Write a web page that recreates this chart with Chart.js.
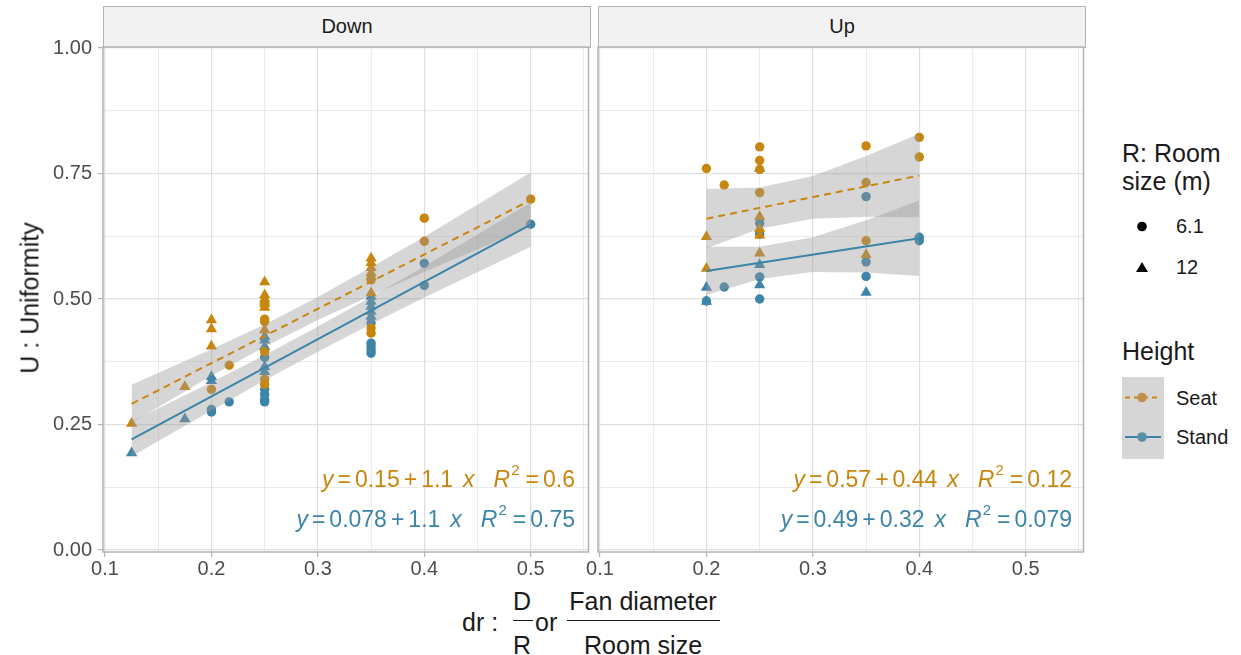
<!DOCTYPE html>
<html>
<head>
<meta charset="utf-8">
<script src="https://cdn.jsdelivr.net/npm/chart.js@4"></script>
<style>
  body { margin: 0; background: #fff; font-family: "Liberation Sans", Arial, sans-serif; }
  #wrap { position: relative; width: 1241px; height: 655px; overflow: hidden; color: #1a1a1a; }
  .box { position: absolute; }
  .strip { position: absolute; background: #f2f2f2; border: 1.5px solid #b3b3b3; box-sizing: border-box;
           font-size: 20px; text-align: center; line-height: 38px; }
  .eq { position: absolute; font-size: 23px; line-height: 1; white-space: nowrap; }
  .eq .op { margin: 0 4px; }
  .eq .sx { margin-left: 10px; }
  .eq .gap { margin-left: 19px; }
  .eq sup { font-size: 15px; position: relative; top: -3px; margin-left: 1px; margin-right: 2px; }
  .t25 { position: absolute; font-size: 25px; line-height: 1; white-space: nowrap; }
  .t20 { position: absolute; font-size: 20px; line-height: 1; white-space: nowrap; }
  .bar { position: absolute; height: 0; border-top: 1.6px solid #1a1a1a; }
</style>
</head>
<body>
<div id="wrap">
  <div class="strip" style="left:103px;top:6px;width:488px;height:42px;">Down</div>
  <div class="strip" style="left:598px;top:6px;width:488px;height:42px;">Up</div>

  <div class="box" style="left:0;top:21px;width:595px;height:561px;"><canvas id="chartDown"></canvas></div>
  <div class="box" style="left:580px;top:37px;width:510px;height:545px;"><canvas id="chartUp"></canvas></div>

  <!-- equações -->
  <div class="eq" style="right:666px;top:465px;color:#c8860f;"><i>y</i><span class="op">=</span>0.15<span class="op">+</span>1.1<span class="sx"><i>x</i></span><span class="gap"><i>R</i></span><sup>2</sup><span class="op">=</span>0.6</div>
  <div class="eq" style="right:666px;top:505px;color:#3c84a8;"><i>y</i><span class="op">=</span>0.078<span class="op">+</span>1.1<span class="sx"><i>x</i></span><span class="gap"><i>R</i></span><sup>2</sup><span class="op">=</span>0.75</div>
  <div class="eq" style="right:169px;top:465px;color:#c8860f;"><i>y</i><span class="op">=</span>0.57<span class="op">+</span>0.44<span class="sx"><i>x</i></span><span class="gap"><i>R</i></span><sup>2</sup><span class="op">=</span>0.12</div>
  <div class="eq" style="right:169px;top:505px;color:#3c84a8;"><i>y</i><span class="op">=</span>0.49<span class="op">+</span>0.32<span class="sx"><i>x</i></span><span class="gap"><i>R</i></span><sup>2</sup><span class="op">=</span>0.079</div>

  <!-- título eixo y -->
  <div style="position:absolute;left:30px;top:298px;transform:translate(-50%,-50%) rotate(-90deg);font-size:25px;white-space:nowrap;">U&nbsp;:&nbsp;Uniformity</div>

  <!-- título eixo x -->
  <div class="t25" style="left:462px;top:610px;">dr :</div>
  <div class="t25" style="left:522px;top:589px;transform:translateX(-50%);">D</div>
  <div class="bar" style="left:513px;top:620px;width:20px;"></div>
  <div class="t25" style="left:522px;top:633px;transform:translateX(-50%);">R</div>
  <div class="t25" style="left:535px;top:610px;">or</div>
  <div class="t25" style="left:643px;top:589px;transform:translateX(-50%);">Fan diameter</div>
  <div class="bar" style="left:567px;top:620px;width:153px;"></div>
  <div class="t25" style="left:643px;top:633px;transform:translateX(-50%);">Room size</div>

  <!-- legenda -->
  <div class="t25" style="left:1122px;top:141px;">R: Room</div>
  <div class="t25" style="left:1122px;top:169px;">size (m)</div>
  <svg style="position:absolute;left:1127px;top:212px;" width="30" height="70">
    <circle cx="15" cy="14.5" r="4.8" fill="#000"/>
    <polygon points="15,50 21,60 9,60" fill="#000"/>
  </svg>
  <div class="t20" style="left:1176px;top:216px;">6.1</div>
  <div class="t20" style="left:1176px;top:257px;">12</div>

  <div class="t25" style="left:1122px;top:339px;">Height</div>
  <svg style="position:absolute;left:1122px;top:377px;" width="42" height="82">
    <rect x="0" y="0" width="42" height="82" fill="#d6d6d6"/>
    <line x1="3" y1="20.5" x2="39" y2="20.5" stroke="#c8860f" stroke-width="2" stroke-dasharray="5 4"/>
    <circle cx="20" cy="20.5" r="4.8" fill="#c08f4e"/>
    <line x1="3" y1="60" x2="39" y2="60" stroke="#3c84a8" stroke-width="2"/>
    <circle cx="20" cy="60" r="4.8" fill="#5b8fa9"/>
  </svg>
  <div class="t20" style="left:1176px;top:388px;">Seat</div>
  <div class="t20" style="left:1176px;top:427px;">Stand</div>
</div>

<script>
/* =======================
   DADOS
======================= */
// Painel "Down": [dr, U]
const downSeatCircle = [[0.2,0.32],[0.2167,0.368],[0.25,0.46],[0.25,0.455],[0.25,0.395],[0.25,0.34],[0.25,0.33],
                        [0.35,0.538],[0.35,0.442],[0.35,0.432],[0.4,0.661],[0.4,0.615],[0.5,0.699]];
const downSeatTriangle = [[0.125,0.252],[0.175,0.325],[0.2,0.458],[0.2,0.44],[0.2,0.406],[0.25,0.534],[0.25,0.508],
                          [0.25,0.5],[0.25,0.495],[0.25,0.49],[0.25,0.483],[0.25,0.438],[0.35,0.581],[0.35,0.572],
                          [0.35,0.562],[0.35,0.552],[0.35,0.545],[0.35,0.512]];
const downStandCircle = [[0.2,0.28],[0.2,0.275],[0.2167,0.295],[0.25,0.384],[0.25,0.32],[0.25,0.31],[0.25,0.3],
                         [0.25,0.295],[0.35,0.452],[0.35,0.412],[0.35,0.405],[0.35,0.398],[0.35,0.392],
                         [0.4,0.571],[0.4,0.527],[0.5,0.649]];
const downStandTriangle = [[0.125,0.193],[0.175,0.261],[0.2,0.345],[0.2,0.337],[0.25,0.425],[0.25,0.418],[0.25,0.405],
                           [0.25,0.365],[0.25,0.355],[0.35,0.505],[0.35,0.495],[0.35,0.485],[0.35,0.475],[0.35,0.465]];

// Painel "Up"
const upSeatCircle = [[0.2,0.76],[0.2167,0.727],[0.25,0.803],[0.25,0.776],[0.25,0.758],[0.25,0.712],
                      [0.35,0.805],[0.35,0.732],[0.35,0.616],[0.4,0.822],[0.4,0.783]];
const upSeatTriangle = [[0.2,0.624],[0.2,0.561],[0.25,0.664],[0.25,0.64],[0.25,0.627],[0.25,0.591],[0.35,0.588]];
const upStandCircle = [[0.2,0.496],[0.2167,0.524],[0.25,0.651],[0.25,0.629],[0.25,0.544],[0.25,0.5],
                       [0.35,0.704],[0.35,0.574],[0.35,0.545],[0.4,0.623],[0.4,0.616]];
const upStandTriangle = [[0.2,0.523],[0.2,0.495],[0.25,0.76],[0.25,0.568],[0.25,0.528],[0.35,0.513]];

// Retas de regressão (extremos)
const downFitX = [0.125, 0.5];
const downSeatFitY = [0.291, 0.697];
const downStandFitY = [0.2205, 0.648];
const upFitX = [0.2, 0.4];
const upSeatFitY = [0.66, 0.746];
const upStandFitY = [0.556, 0.621];

// Faixas de confiança
const downBandX = [0.125, 0.2, 0.25, 0.3, 0.35, 0.4, 0.5];
const downSeatUpper = [0.329, 0.400, 0.449, 0.504, 0.563, 0.624, 0.752];
const downSeatLower = [0.253, 0.347, 0.405, 0.458, 0.507, 0.554, 0.644];
const downStandUpper = [0.256, 0.334, 0.388, 0.445, 0.504, 0.565, 0.692];
const downStandLower = [0.186, 0.278, 0.338, 0.395, 0.450, 0.503, 0.604];
const upBandX = [0.2, 0.25, 0.3, 0.35, 0.4];
const upSeatUpper = [0.719, 0.722, 0.745, 0.785, 0.829];
const upSeatLower = [0.601, 0.640, 0.660, 0.664, 0.663];
const upStandUpper = [0.604, 0.604, 0.623, 0.657, 0.696];
const upStandLower = [0.508, 0.540, 0.554, 0.553, 0.546];

// Eixos
const xTicks = [0.1, 0.15, 0.2, 0.25, 0.3, 0.35, 0.4, 0.45, 0.5, 0.55];
const xLabels = ['0.1', '', '0.2', '', '0.3', '', '0.4', '', '0.5', ''];
const yTicks = [0, 0.125, 0.25, 0.375, 0.5, 0.625, 0.75, 0.875, 1];
const yLabels = ['0.00', '', '0.25', '', '0.50', '', '0.75', '', '1.00'];

const SEAT = '#c8860f';
const STAND = '#3c84a8';
const BAND = 'rgba(153,153,153,0.4)';
const GRID = '#dedede';

Chart.defaults.font.family = '"Liberation Sans", Arial, sans-serif';
Chart.defaults.animation = false;

/* =======================
   DATASETS
======================= */
const pts = (arr) => arr.map(p => ({ x: p[0], y: p[1] }));
const xy = (xs, ys) => xs.map((x, i) => ({ x: x, y: ys[i] }));

const pontos = (data, color, style) => ({
    data: pts(data),
    pointStyle: style,
    pointRadius: style === 'triangle' ? 6.5 : 4.7,
    pointBackgroundColor: color,
    pointBorderWidth: 0,
    showLine: false,
    order: 3
});

const faixa = (xs, lower, upper) => ([
    { data: xy(xs, lower), showLine: true, borderWidth: 0, pointRadius: 0, fill: false, order: 2 },
    { data: xy(xs, upper), showLine: true, borderWidth: 0, pointRadius: 0, fill: '-1', backgroundColor: BAND, order: 2 }
]);

const reta = (xs, ys, color, dashed) => ({
    data: xy(xs, ys),
    showLine: true,
    borderColor: color,
    borderWidth: 2,
    borderDash: dashed ? [7, 5] : [],
    pointRadius: 0,
    fill: false,
    order: 1
});

const panelBorder = {
    id: 'panelBorder',
    afterDraw(chart) {
        const { ctx, chartArea: a } = chart;
        ctx.save();
        ctx.strokeStyle = '#b3b3b3';
        ctx.lineWidth = 1.5;
        ctx.strokeRect(a.left, a.top, a.right - a.left, a.bottom - a.top);
        ctx.restore();
    }
};

const makeOptions = (showY, padLeft, padTop) => ({
    responsive: true,
    maintainAspectRatio: false,
    layout: { padding: { top: padTop, right: 5, left: padLeft, bottom: 0 } },
    plugins: { legend: { display: false }, tooltip: { enabled: false } },
    scales: {
        x: {
            type: 'linear',
            min: 0.0981,
            max: 0.5543,
            afterBuildTicks: axis => { axis.ticks = xTicks.map(v => ({ value: v })); },
            afterFit: axis => { axis.height = 30; },
            border: { display: false },
            grid: {
                color: GRID,
                lineWidth: c => (c.index % 2 === 0 ? 1.2 : 0.6),
                tickColor: c => (c.index % 2 === 0 ? '#b3b3b3' : 'rgba(0,0,0,0)'),
                tickLength: 5
            },
            ticks: {
                autoSkip: false,
                maxRotation: 0,
                padding: 0,
                color: '#4d4d4d',
                font: { size: 20 },
                callback: (v, i) => xLabels[i]
            }
        },
        y: {
            type: 'linear',
            min: -0.004,
            max: 1.002,
            afterBuildTicks: axis => { axis.ticks = yTicks.map(v => ({ value: v })); },
            afterFit: axis => { axis.width = showY ? 103 : 0; },
            border: { display: false },
            grid: {
                color: GRID,
                lineWidth: c => (c.index % 2 === 0 ? 1.2 : 0.6),
                drawTicks: showY,
                tickColor: c => (c.index % 2 === 0 ? '#b3b3b3' : 'rgba(0,0,0,0)'),
                tickLength: 5
            },
            ticks: {
                display: showY,
                autoSkip: false,
                padding: 6,
                color: '#4d4d4d',
                font: { size: 20 },
                callback: (v, i) => yLabels[i]
            }
        }
    }
});

/* =======================
   GRÁFICOS
======================= */
new Chart(document.getElementById('chartDown'), {
    type: 'scatter',
    data: {
        datasets: [
            reta(downFitX, downSeatFitY, SEAT, true),
            reta(downFitX, downStandFitY, STAND, false),
            ...faixa(downBandX, downSeatLower, downSeatUpper),
            ...faixa(downBandX, downStandLower, downStandUpper),
            pontos(downSeatCircle, SEAT, 'circle'),
            pontos(downSeatTriangle, SEAT, 'triangle'),
            pontos(downStandCircle, STAND, 'circle'),
            pontos(downStandTriangle, STAND, 'triangle')
        ]
    },
    options: makeOptions(true, 0, 26),
    plugins: [panelBorder]
});

new Chart(document.getElementById('chartUp'), {
    type: 'scatter',
    data: {
        datasets: [
            reta(upFitX, upSeatFitY, SEAT, true),
            reta(upFitX, upStandFitY, STAND, false),
            ...faixa(upBandX, upSeatLower, upSeatUpper),
            ...faixa(upBandX, upStandLower, upStandUpper),
            pontos(upSeatCircle, SEAT, 'circle'),
            pontos(upSeatTriangle, SEAT, 'triangle'),
            pontos(upStandCircle, STAND, 'circle'),
            pontos(upStandTriangle, STAND, 'triangle')
        ]
    },
    options: makeOptions(false, 18, 10),
    plugins: [panelBorder]
});
</script>
</body>
</html>
